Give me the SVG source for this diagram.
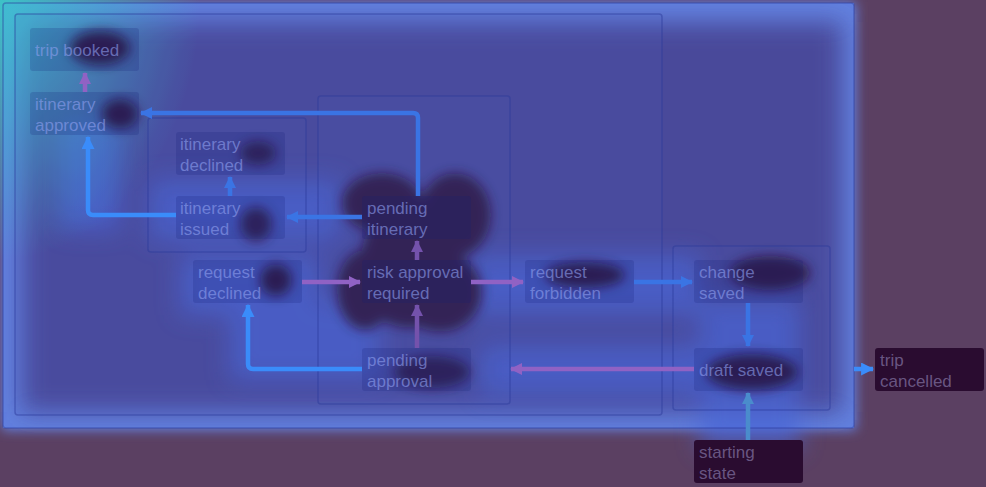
<svg xmlns="http://www.w3.org/2000/svg" width="986" height="487" viewBox="0 0 986 487">
<defs>
<style>
.cont{fill:#5060c0;fill-opacity:0.1;stroke:#2a3a9a;stroke-opacity:0.45;stroke-width:1.5}
.node rect{fill:#14207a;fill-opacity:0.2}
.node.out rect{fill:#2a0c30;fill-opacity:1}
.node text{font-family:"Liberation Sans",Arial,sans-serif;font-size:17px;fill:#8fa0f0;fill-opacity:0.6}
.node.out text{fill:#7a6a98;fill-opacity:0.8}
.e{fill:none;stroke-width:4.5;stroke-linejoin:round}
.blue{stroke:#3a74e4}
.bright{stroke:#3a8cfa}
.pink{stroke:#9062c4}
.violet{stroke:#7452ac}
.teal{stroke:#4a8ccc}
</style>
<filter id="b6" x="-50%" y="-50%" width="200%" height="200%"><feGaussianBlur stdDeviation="6"/></filter>
<filter id="b12" x="-20%" y="-20%" width="140%" height="140%"><feGaussianBlur stdDeviation="12"/></filter>
<radialGradient id="teal" cx="0" cy="0" r="1" gradientUnits="userSpaceOnUse" gradientTransform="translate(0 0) scale(200 260)">
<stop offset="0" stop-color="#3ad0d0" stop-opacity="0.9"/>
<stop offset="1" stop-color="#3ad0d0" stop-opacity="0"/>
</radialGradient>
<marker id="mBlue" viewBox="0 0 12 12" refX="11" refY="6" markerWidth="12" markerHeight="12" markerUnits="userSpaceOnUse" orient="auto"><path d="M0,0 L12,6 L0,12 z" fill="#3a74e4"/></marker>
<marker id="mBright" viewBox="0 0 12 12" refX="11" refY="6" markerWidth="13" markerHeight="13" markerUnits="userSpaceOnUse" orient="auto"><path d="M0,0 L12,6 L0,12 z" fill="#3a8cfa"/></marker>
<marker id="mPink" viewBox="0 0 12 12" refX="11" refY="6" markerWidth="12" markerHeight="12" markerUnits="userSpaceOnUse" orient="auto"><path d="M0,0 L12,6 L0,12 z" fill="#9062c4"/></marker>
<marker id="mViolet" viewBox="0 0 12 12" refX="11" refY="6" markerWidth="12" markerHeight="12" markerUnits="userSpaceOnUse" orient="auto"><path d="M0,0 L12,6 L0,12 z" fill="#7452ac"/></marker>
<marker id="mTeal" viewBox="0 0 12 12" refX="11" refY="6" markerWidth="12" markerHeight="12" markerUnits="userSpaceOnUse" orient="auto"><path d="M0,0 L12,6 L0,12 z" fill="#4a8ccc"/></marker>
</defs>

<!-- heatmap base -->
<g id="heat">
<rect width="986" height="487" fill="#5b4062"/>
<rect x="2" y="2" width="854" height="428" fill="#6686e6" filter="url(#b6)"/>
<rect x="3" y="3" width="851" height="425" fill="#6484e2"/>
<rect x="22" y="22" width="820" height="390" fill="#4a4696" filter="url(#b12)"/>
<g filter="url(#b12)" fill="#4a66d8" opacity="0.7">
<rect x="150" y="180" width="190" height="60"/>
<rect x="180" y="255" width="140" height="60"/>
<rect x="470" y="255" width="230" height="60"/>
<rect x="480" y="345" width="300" height="50"/>
<rect x="700" y="300" width="100" height="150"/>
<rect x="60" y="120" width="60" height="110"/>
<rect x="230" y="300" width="150" height="80"/>
</g>
<rect x="0" y="0" width="200" height="260" fill="url(#teal)"/>
<g filter="url(#b6)" fill="#2a0a2e">
<ellipse cx="100" cy="48" rx="30" ry="17"/>
<ellipse cx="120" cy="114" rx="18" ry="15"/>
<ellipse cx="258" cy="153" rx="18" ry="12"/>
<ellipse cx="256" cy="224" rx="16" ry="17"/>
<ellipse cx="276" cy="280" rx="16" ry="16"/>
<ellipse cx="382" cy="203" rx="40" ry="30"/>
<ellipse cx="455" cy="215" rx="36" ry="42"/>
<ellipse cx="365" cy="290" rx="28" ry="40"/>
<ellipse cx="440" cy="292" rx="42" ry="40"/>
<ellipse cx="412" cy="252" rx="50" ry="40"/>
<ellipse cx="410" cy="300" rx="40" ry="28"/>
<ellipse cx="585" cy="275" rx="40" ry="13"/>
<ellipse cx="770" cy="273" rx="40" ry="17"/>
<ellipse cx="752" cy="372" rx="46" ry="18"/>
<ellipse cx="432" cy="372" rx="38" ry="16"/>
</g>
</g>

<!-- containers -->
<g id="containers">
<rect id="c-outer" class="cont" x="3" y="3" width="851" height="425" rx="3"/>
<rect id="c-main" class="cont" x="15" y="14" width="647" height="401" rx="3"/>
<rect id="c-itin" class="cont" x="148" y="118" width="158" height="134" rx="3"/>
<rect id="c-risk" class="cont" x="318" y="96" width="192" height="308" rx="3"/>
<rect id="c-draft" class="cont" x="673" y="246" width="157" height="164" rx="3"/>
</g>

<!-- connectors -->
<g id="connectors">
<path class="e pink" d="M85,92 V73" marker-end="url(#mPink)"/>
<path class="e blue" d="M418,196 V118 Q418,113 413,113 H141" marker-end="url(#mBlue)"/>
<path class="e bright" d="M176,215 H93 Q88,215 88,210 V137" marker-end="url(#mBright)"/>
<path class="e blue" d="M230,196 V177" marker-end="url(#mBlue)"/>
<path class="e blue" d="M362,217 H287" marker-end="url(#mBlue)"/>
<path class="e pink" d="M302,282 H360" marker-end="url(#mPink)"/>
<path class="e violet" d="M417,260 V241" marker-end="url(#mViolet)"/>
<path class="e pink" d="M471,282 H523" marker-end="url(#mPink)"/>
<path class="e blue" d="M634,282 H692" marker-end="url(#mBlue)"/>
<path class="e blue" d="M748,303 V346" marker-end="url(#mBlue)"/>
<path class="e pink" d="M694,369 H511" marker-end="url(#mPink)"/>
<path class="e bright" d="M362,369 H253 Q248,369 248,364 V305" marker-end="url(#mBright)"/>
<path class="e violet" d="M417,348 V305" marker-end="url(#mViolet)"/>
<path class="e teal" d="M748,440 V393" marker-end="url(#mTeal)"/>
<path class="e bright" d="M854,369 H873" marker-end="url(#mBright)"/>
</g>

<!-- nodes -->
<g id="n-trip-booked" class="node"><rect x="30" y="28" width="109" height="43" rx="3"/><text x="35" y="56">trip booked</text></g>
<g id="n-itinerary-approved" class="node"><rect x="30" y="92" width="109" height="43" rx="3"/><text x="35" y="110">itinerary</text><text x="35" y="131">approved</text></g>
<g id="n-itinerary-declined" class="node"><rect x="176" y="132" width="109" height="43" rx="3"/><text x="180" y="150">itinerary</text><text x="180" y="171">declined</text></g>
<g id="n-itinerary-issued" class="node"><rect x="176" y="196" width="109" height="43" rx="3"/><text x="180" y="214">itinerary</text><text x="180" y="235">issued</text></g>
<g id="n-request-declined" class="node"><rect x="193" y="260" width="109" height="43" rx="3"/><text x="198" y="278">request</text><text x="198" y="299">declined</text></g>
<g id="n-pending-itinerary" class="node"><rect x="362" y="196" width="109" height="43" rx="3"/><text x="367" y="214">pending</text><text x="367" y="235">itinerary</text></g>
<g id="n-risk-approval" class="node"><rect x="362" y="260" width="109" height="43" rx="3"/><text x="367" y="278">risk approval</text><text x="367" y="299">required</text></g>
<g id="n-request-forbidden" class="node"><rect x="525" y="260" width="109" height="43" rx="3"/><text x="530" y="278">request</text><text x="530" y="299">forbidden</text></g>
<g id="n-pending-approval" class="node"><rect x="362" y="348" width="109" height="43" rx="3"/><text x="367" y="366">pending</text><text x="367" y="387">approval</text></g>
<g id="n-change-saved" class="node"><rect x="694" y="260" width="109" height="43" rx="3"/><text x="699" y="278">change</text><text x="699" y="299">saved</text></g>
<g id="n-draft-saved" class="node"><rect x="694" y="348" width="109" height="43" rx="3"/><text x="699" y="376">draft saved</text></g>
<g id="n-trip-cancelled" class="node out"><rect x="875" y="348" width="109" height="43" rx="3"/><text x="880" y="366">trip</text><text x="880" y="387">cancelled</text></g>
<g id="n-starting-state" class="node out"><rect x="694" y="440" width="109" height="43" rx="3"/><text x="699" y="458">starting</text><text x="699" y="479">state</text></g>
</svg>
